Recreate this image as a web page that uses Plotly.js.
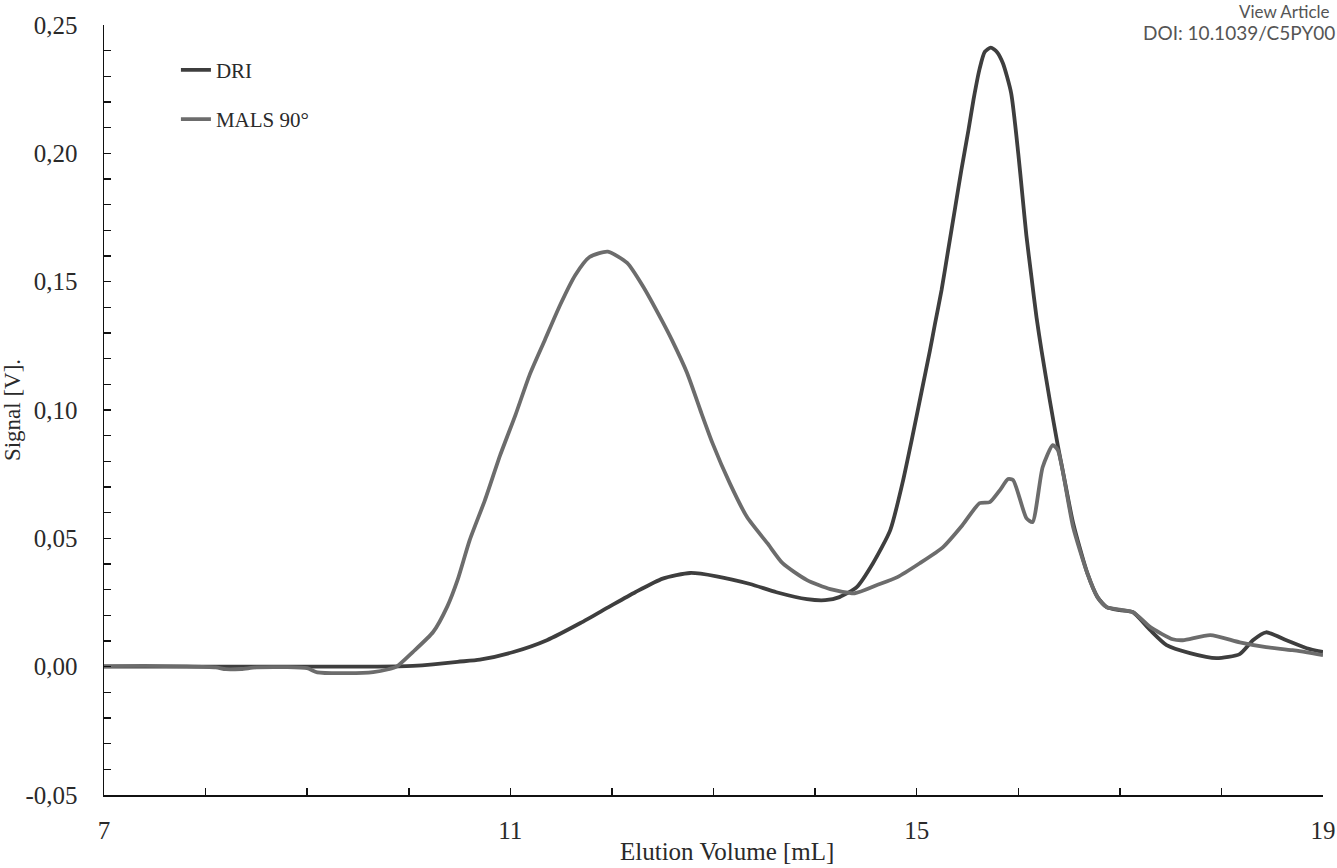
<!DOCTYPE html>
<html>
<head>
<meta charset="utf-8">
<script src="https://cdn.plot.ly/plotly-3.0.1.min.js"></script>
<style>
  html, body { margin: 0; padding: 0; background: #fff; }
  #chart { width: 1337px; height: 868px; }
</style>
</head>
<body>
<div id="chart"></div>
<script>
// Elution volume [mL] and signal [V]
const driVolume = [7.00, 7.50, 8.00, 8.50, 9.00, 9.50, 9.90, 10.04, 10.24, 10.48, 10.70, 11.03, 11.36, 11.69, 11.98, 12.23, 12.50, 12.77, 13.03, 13.36, 13.62, 13.92, 14.10, 14.24, 14.41, 14.57, 14.74, 14.86, 14.96, 15.05, 15.13, 15.18, 15.245, 15.31, 15.38, 15.44, 15.51, 15.56, 15.62, 15.67, 15.73, 15.79, 15.85, 15.93, 16.00, 16.04, 16.08, 16.13, 16.18, 16.23, 16.31, 16.39, 16.44, 16.54, 16.68, 16.78, 16.87, 17.00, 17.13, 17.30, 17.46, 17.69, 17.95, 18.18, 18.31, 18.44, 18.64, 18.84, 19.00];
const driSignal = [0.0000, 0.0000, 0.0000, 0.0000, 0.0000, 0.0000, 0.0001, 0.0003, 0.0009, 0.0019, 0.0027, 0.0057, 0.0103, 0.0170, 0.0235, 0.0290, 0.0343, 0.0365, 0.0352, 0.0322, 0.0290, 0.0263, 0.0259, 0.0271, 0.0310, 0.0403, 0.0532, 0.0715, 0.0900, 0.1075, 0.1230, 0.1335, 0.1467, 0.1623, 0.1791, 0.1935, 0.2091, 0.2210, 0.2330, 0.2395, 0.2412, 0.2395, 0.2350, 0.2235, 0.2000, 0.1840, 0.1680, 0.1518, 0.1360, 0.1230, 0.1039, 0.0860, 0.0760, 0.0560, 0.0364, 0.0271, 0.0232, 0.0220, 0.0212, 0.0142, 0.0084, 0.0053, 0.0033, 0.0049, 0.0103, 0.0134, 0.0103, 0.0072, 0.0057];

const malsVolume = [7.00, 7.40, 7.80, 8.10, 8.20, 8.35, 8.50, 8.80, 9.00, 9.10, 9.40, 9.65, 9.80, 9.88, 10.04, 10.24, 10.38, 10.48, 10.60, 10.75, 10.90, 11.05, 11.19, 11.34, 11.49, 11.64, 11.78, 11.96, 12.15, 12.31, 12.49, 12.59, 12.74, 12.87, 12.99, 13.16, 13.33, 13.53, 13.68, 13.92, 14.15, 14.39, 14.61, 14.81, 15.03, 15.26, 15.45, 15.62, 15.72, 15.82, 15.90, 15.95, 16.08, 16.14, 16.24, 16.34, 16.39, 16.54, 16.68, 16.78, 16.87, 17.13, 17.30, 17.52, 17.62, 17.89, 18.18, 18.44, 18.70, 19.00];
const malsSignal = [0.0002, 0.0003, 0.0001, -0.0003, -0.0010, -0.0009, -0.0003, -0.0002, -0.0006, -0.0022, -0.0025, -0.0021, -0.0010, 0.0000, 0.0057, 0.0135, 0.0235, 0.0337, 0.0493, 0.0649, 0.0824, 0.0980, 0.1137, 0.1273, 0.1409, 0.1526, 0.1596, 0.1617, 0.1573, 0.1479, 0.1350, 0.1273, 0.1144, 0.1000, 0.0871, 0.0715, 0.0583, 0.0481, 0.0403, 0.0337, 0.0302, 0.0286, 0.0318, 0.0349, 0.0403, 0.0466, 0.0551, 0.0637, 0.0641, 0.0688, 0.0731, 0.0727, 0.0579, 0.0563, 0.0777, 0.0863, 0.0844, 0.0544, 0.0364, 0.0271, 0.0232, 0.0212, 0.0154, 0.0107, 0.0103, 0.0123, 0.0095, 0.0076, 0.0064, 0.0045];

const seriesNames = ['DRI', 'MALS 90°'];
const xTickValues = [7, 11, 15, 19];
const xTickLabels = ['7', '11', '15', '19'];
const yTickValues = [-0.05, 0.00, 0.05, 0.10, 0.15, 0.20, 0.25];
const yTickLabels = ['-0,05', '0,00', '0,05', '0,10', '0,15', '0,20', '0,25'];
const xAxisTitle = 'Elution Volume [mL]';
const yAxisTitle = 'Signal [V].';

const serif = 'Liberation Serif';
const textColor = '#2a2a2a';

const traces = [
  {
    x: driVolume, y: driSignal, name: seriesNames[0], type: 'scatter', mode: 'lines',
    line: { color: '#3e3e3e', width: 3.8, shape: 'spline', smoothing: 0.6 },
    legendgroup: 'a'
  },
  {
    x: malsVolume, y: malsSignal, name: seriesNames[1], type: 'scatter', mode: 'lines',
    line: { color: '#6c6c6c', width: 3.8, shape: 'spline', smoothing: 0.6 },
    legendgroup: 'b'
  }
];

const layout = {
  width: 1337, height: 868,
  margin: { l: 104, r: 14, t: 25, b: 73 },
  paper_bgcolor: '#ffffff', plot_bgcolor: '#ffffff',
  font: { family: serif, size: 22, color: textColor },
  showlegend: true,
  legend: {
    x: 0.059, y: 0.968, xanchor: 'left', yanchor: 'top',
    bgcolor: 'rgba(0,0,0,0)', font: { family: serif, size: 21, color: textColor },
    tracegroupgap: 19, itemwidth: 30
  },
  xaxis: {
    range: [7, 19], showgrid: false, zeroline: false,
    showline: true, linecolor: '#111', linewidth: 1.5,
    tickvals: xTickValues, ticktext: xTickLabels,
    ticks: 'inside', ticklen: 7, tickwidth: 1.5, tickcolor: '#111',
    minor: { dtick: 1, ticks: 'inside', ticklen: 7, tickwidth: 1.5, tickcolor: '#111', showgrid: false },
    ticklabelstandoff: 12,
    tickfont: { family: serif, size: 25, color: textColor }
  },
  yaxis: {
    range: [-0.05, 0.25], showgrid: false, zeroline: false,
    showline: true, linecolor: '#111', linewidth: 1.5,
    tickvals: yTickValues, ticktext: yTickLabels,
    ticks: 'inside', ticklen: 7, tickwidth: 1.5, tickcolor: '#111',
    minor: { dtick: 0.01, tick0: 0, ticks: 'inside', ticklen: 7, tickwidth: 1.5, tickcolor: '#111', showgrid: false },
    ticklabelstandoff: 20,
    tickfont: { family: serif, size: 25, color: textColor },
    title: { text: yAxisTitle, font: { family: serif, size: 23, color: textColor }, standoff: 2 }
  },
  annotations: [
    { text: xAxisTitle, xref: 'paper', yref: 'paper', x: 0.511, y: -0.0735, xanchor: 'center', yanchor: 'middle',
      showarrow: false, font: { family: serif, size: 25, color: textColor } },
    { text: 'View Article', xref: 'paper', yref: 'paper', x: 1.0075, y: 1.0175, xanchor: 'right', yanchor: 'middle',
      showarrow: false, font: { family: 'Lato', size: 17, color: '#555' } },
    { text: 'DOI: 10.1039/C5PY00', xref: 'paper', yref: 'paper', x: 0.851, y: 0.990, xanchor: 'left', yanchor: 'middle',
      showarrow: false, font: { family: 'Lato', size: 19, color: '#555' } }
  ]
};

Plotly.newPlot('chart', traces, layout, { displayModeBar: false, staticPlot: true });
</script>
</body>
</html>
